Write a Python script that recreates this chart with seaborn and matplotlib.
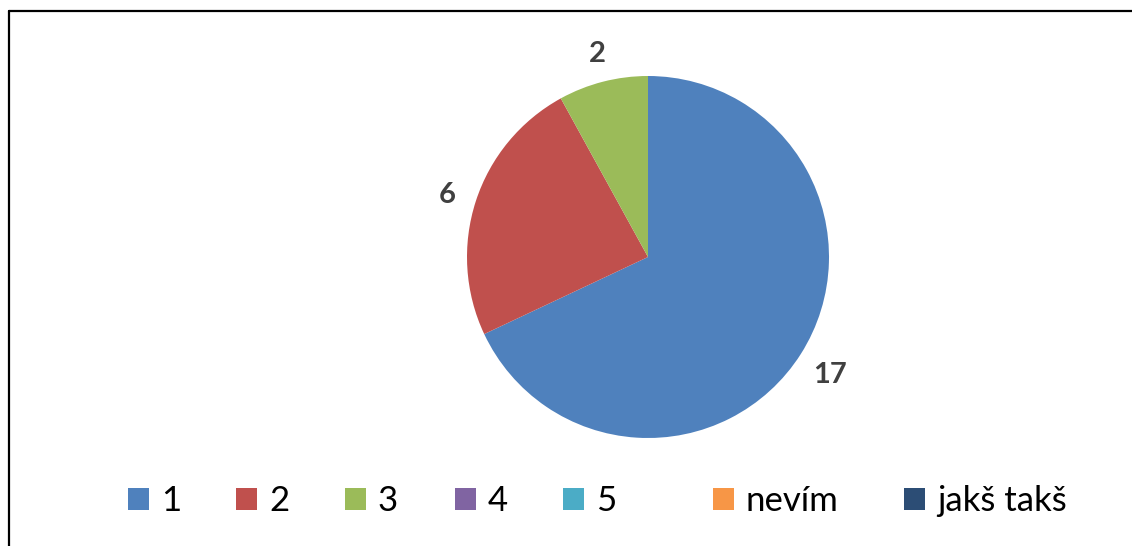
import matplotlib
matplotlib.use("Agg")
import matplotlib.pyplot as plt
import matplotlib.transforms as mtransforms
import seaborn as sns
from matplotlib.patches import Patch
from matplotlib.lines import Line2D

sns.set_theme(style="white")
plt.rcParams['font.family'] = ['Lato', 'DejaVu Sans']

categories = ["1", "2", "3", "4", "5", "nevím", "jakš takš"]
values = [17, 6, 2, 0, 0, 0, 0]
colors = ["#4F81BD", "#C0504D", "#9BBB59", "#8064A2", "#4BACC6", "#F79646", "#2C4D75"]

W, H = 1132, 546
fig = plt.figure(figsize=(W / 100, H / 100), dpi=100)
fig.patch.set_facecolor("white")

cx, cy, r = 648, 257, 181
ax = fig.add_axes([(cx - r) / W, (H - cy - r) / H, 2 * r / W, 2 * r / H])

total = sum(values)

def fmt(pct):
    v = int(round(pct * total / 100.0))
    return str(v) if v > 0 else ""

wedges, texts, autotexts = ax.pie(
    values, colors=colors, startangle=90, counterclock=False,
    radius=1.0, autopct=fmt, pctdistance=1.18,
    wedgeprops=dict(linewidth=0),
    textprops=dict(fontsize=21, fontweight="bold", color="#404040"),
)
for t in autotexts:
    t.set_transform(mtransforms.offset_copy(t.get_transform(), fig=fig, x=2, y=-4, units="dots"))
ax.set_xlim(-1, 1)
ax.set_ylim(-1, 1)
ax.set_aspect("equal")
ax.axis("off")

# legend entries placed at Excel-like slot positions (left edge of marker, px)
legend_x = [128, 236, 345, 455, 563, 713, 904]
legend_y = 501
for lab, col, lx in zip(categories, colors, legend_x):
    fig.legend([Patch(facecolor=col, edgecolor="none")], [lab], loc="center left",
               bbox_to_anchor=(lx / W, (H - legend_y) / H), borderpad=0, borderaxespad=0,
               frameon=False, fontsize=25, handlelength=0.6, handleheight=0.6,
               handletextpad=0.35, labelcolor="black")

# chart border (top and left visible)
fig.add_artist(Line2D([9 / W, 1.0], [(H - 11) / H, (H - 11) / H], color="black",
                      linewidth=1.6, transform=fig.transFigure))
fig.add_artist(Line2D([9 / W, 9 / W], [0.0, (H - 11) / H], color="black",
                      linewidth=1.6, transform=fig.transFigure))

fig.savefig("out.png", dpi=100)
